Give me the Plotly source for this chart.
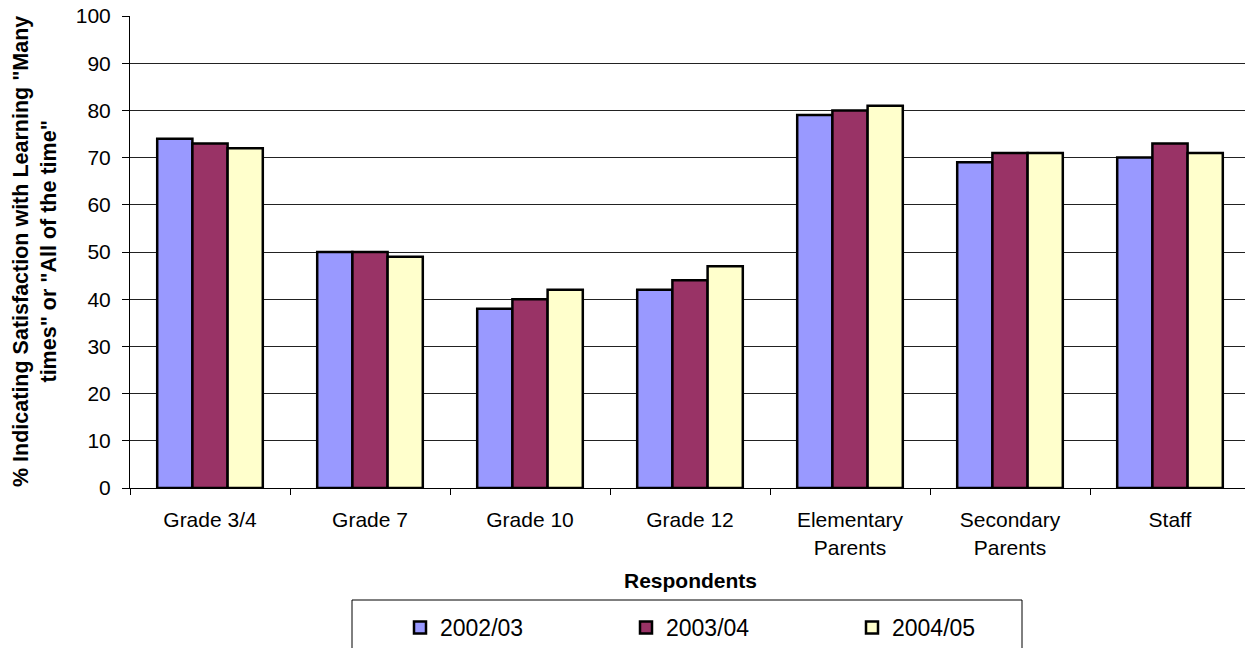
import plotly.graph_objects as go

categories = ["Grade 3/4", "Grade 7", "Grade 10", "Grade 12", "Elementary<br>Parents", "Secondary<br>Parents", "Staff"]
series_names = ["2002/03", "2003/04", "2004/05"]
v_2002 = [74, 50, 38, 42, 79, 69, 70]
v_2003 = [73, 50, 40, 44, 80, 71, 73]
v_2004 = [72, 49, 42, 47, 81, 71, 71]
colors = ["#9999FF", "#993366", "#FFFFCC"]
y_ticks = [0, 10, 20, 30, 40, 50, 60, 70, 80, 90, 100]

fig = go.Figure()
for name, vals, col in zip(series_names, [v_2002, v_2003, v_2004], colors):
    fig.add_trace(go.Bar(
        x=categories, y=vals, name=name,
        marker=dict(color=col, line=dict(color="black", width=2.5)),
    ))

font_family = "Liberation Sans, Arial, sans-serif"
PLOT_W = 1115
PLOT_H = 472


def px_x(page_x):
    return (page_x - 130) / PLOT_W


def px_y(page_y):
    return (488 - page_y) / PLOT_H


fig.update_layout(
    width=1245, height=648,
    margin=dict(l=130, r=0, t=16, b=160, autoexpand=False),
    paper_bgcolor="white", plot_bgcolor="white",
    barmode="group", bargap=0.34, bargroupgap=0,
    font=dict(family=font_family, size=21, color="black"),
    showlegend=True,
    legend=dict(
        orientation="h", x=px_x(400), xanchor="left", y=px_y(606), yanchor="top",
        borderwidth=0, bgcolor="rgba(0,0,0,0)",
        font=dict(size=23, family=font_family),
        entrywidth=181, itemwidth=30,
        traceorder="normal",
    ),
    xaxis=dict(
        range=[-0.5, 6.5 - 5 / 160],
        showline=True, linecolor="black", linewidth=1,
        ticks="outside", ticklen=6, tickcolor="black", tickson="boundaries",
        showgrid=False, tickfont=dict(size=21), ticklabelstandoff=13,
    ),
    yaxis=dict(
        range=[0, 100], tickvals=y_ticks,
        showline=True, linecolor="black", linewidth=1,
        ticks="outside", ticklen=7, tickcolor="black",
        showgrid=True, gridcolor="#222222", gridwidth=1,
        tickfont=dict(size=21), ticklabelstandoff=7, zeroline=False,
        ticklabeloverflow="allow",
    ),
    shapes=[
        dict(type="rect", xref="paper", yref="paper",
             x0=px_x(352), x1=px_x(1022), y0=px_y(600), y1=px_y(660),
             line=dict(color="black", width=1), fillcolor="rgba(0,0,0,0)", layer="above"),
    ],
    annotations=[
        dict(text="<b>Respondents</b>", xref="paper", yref="paper",
             x=px_x(690), y=px_y(580), xanchor="center", yanchor="middle",
             showarrow=False, font=dict(size=21)),
        dict(text="<b>% Indicating Satisfaction with Learning \"Many<br>times\" or \"All of the time\"</b>",
             xref="paper", yref="paper", x=px_x(35), y=px_y(252),
             xanchor="center", yanchor="middle", textangle=-90, showarrow=False,
             font=dict(size=21.5)),
    ],
)

fig.write_html("out.html", config={"displayModeBar": False},
               post_script="document.body.style.margin='0px';")
